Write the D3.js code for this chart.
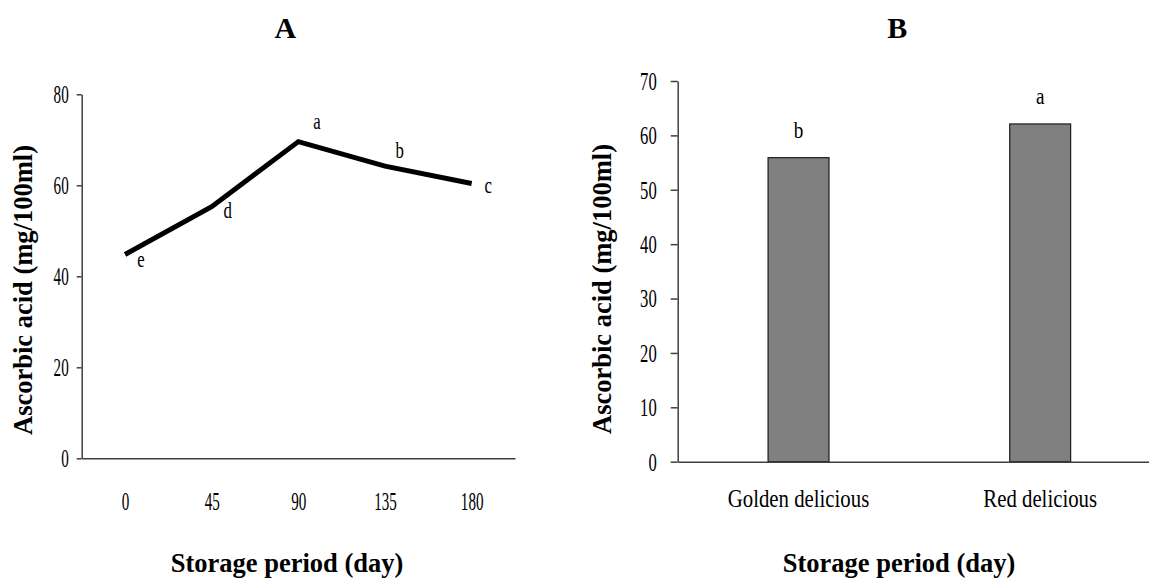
<!DOCTYPE html>
<html>
<head>
<meta charset="utf-8">
<script src="https://cdnjs.cloudflare.com/ajax/libs/d3/7.8.5/d3.min.js"></script>
<style>
	body { margin: 0; background: #fff; }
	text { font-family: "Liberation Serif", "Times New Roman", serif; fill: #000; }
	.axis path, .axis line { stroke: #404040; stroke-width: 1.5; }
	.title { font-weight: bold; }
</style>
</head>
<body>
<script>
/*
Ascorbic acid - panel A (storage period) and panel B (cultivar)
*/

// panel A data
var daysA = ["0", "45", "90", "135", "180"];
var ascorbicA = [44.8, 55.3, 69.6, 64.2, 60.4];
var lettersA = ["e", "d", "a", "b", "c"];
var ticksA = [0, 20, 40, 60, 80];

// panel B data
var cultivarsB = ["Golden delicious", "Red delicious"];
var ascorbicB = [55.9, 62.1];
var lettersB = ["b", "a"];
var ticksB = [0, 10, 20, 30, 40, 50, 60, 70];

// where the letters sit relative to each point of A
var letterOffsetA = [[16, 12.7], [16, 11.3], [18.7, -12.7], [14.7, -8], [16.6, 9.7]];

var svgWidth = 1149;
var svgHeight = 578;
var svg = null;

function initSVG(){
	svg = d3.select("body")
				.append("svg")
					.attr("width", svgWidth)
					.attr("height", svgHeight);
	buildPanelA();
	buildPanelB();
};

//narrow tall digits like the scanned figure
function styleLeftTicks(g, shift, squeeze){
	g.selectAll(".tick text")
		.attr("x", null)
		.style("font-size", "26px")
		.attr("transform", "translate(" + shift + ",0) scale(" + squeeze + ",1)");
}

function addTitles(cx, yTitleX, yTitleY, xTitleX, letter){
	svg.append("text")
		.attr("class", "title")
		.attr("text-anchor", "middle")
		.attr("x", cx).attr("y", 38.3)
		.style("font-size", "30px")
		.text(letter);
	svg.append("text")
		.attr("class", "title")
		.attr("text-anchor", "middle")
		.attr("transform", "translate(" + yTitleX + "," + yTitleY + ") rotate(-90)")
		.style("font-size", "26.5px")
		.text("Ascorbic acid (mg/100ml)");
	svg.append("text")
		.attr("class", "title")
		.attr("text-anchor", "middle")
		.attr("x", xTitleX).attr("y", 572)
		.style("font-size", "26.5px")
		.text("Storage period (day)");
}

function buildPanelA(){
	var xScale = d3.scalePoint()
					.domain(daysA)
					.range([81.7, 515])
					.padding(0.5);
	var yScale = d3.scaleLinear()
					.domain([0, 80])
					.range([458.3, 94.3]);

	svg.append("g")
		.attr("class", "axis")
		.attr("transform", "translate(0," + yScale(0) + ")")
		.call(d3.axisBottom(xScale).tickSize(0).tickSizeOuter(0))
		.selectAll(".tick text")
			.attr("y", 52)
			.attr("dy", null)
			.style("font-size", "26px")
			.attr("transform", "scale(0.58,1)");

	var gy = svg.append("g")
		.attr("class", "axis")
		.attr("transform", "translate(81.7,0)")
		.call(d3.axisLeft(yScale).tickValues(ticksA).tickSize(5).tickSizeOuter(0).tickPadding(0));
	styleLeftTicks(gy, -13, 0.58);

	var line = d3.line()
					.x(function(d, i){ return xScale(daysA[i]); })
					.y(function(d){ return yScale(d); });
	svg.append("path")
		.datum(ascorbicA)
		.attr("fill", "none")
		.attr("stroke", "#000")
		.attr("stroke-width", 5)
		.attr("d", line);

	svg.selectAll(".letterA")
		.data(ascorbicA)
		.enter().append("text")
			.attr("class", "letterA")
			.attr("text-anchor", "middle")
			.style("font-size", "24px")
			.attr("transform", function(d, i){
				var x = xScale(daysA[i]) + letterOffsetA[i][0];
				var y = yScale(d) + letterOffsetA[i][1];
				return "translate(" + x + "," + y + ") scale(0.7,1)";
			})
			.text(function(d, i){ return lettersA[i]; });

	addTitles(285.3, 31.5, 290, 287, "A");
};

function buildPanelB(){
	var xScale = d3.scaleBand()
					.domain(cultivarsB)
					.range([677.7, 1161]);
	var yScale = d3.scaleLinear()
					.domain([0, 70])
					.range([461.7, 81]);
	var barWidth = xScale.bandwidth() * 0.252;

	svg.selectAll(".bar")
		.data(ascorbicB)
		.enter().append("rect")
			.attr("class", "bar")
			.attr("x", function(d, i){ return xScale(cultivarsB[i]) + xScale.bandwidth() / 2 - barWidth / 2; })
			.attr("y", function(d){ return yScale(d); })
			.attr("width", barWidth)
			.attr("height", function(d){ return yScale(0) - yScale(d); })
			.attr("fill", "#808080")
			.attr("stroke", "#1a1a1a")
			.attr("stroke-width", 1.2);

	svg.append("g")
		.attr("class", "axis")
		.attr("transform", "translate(0," + yScale(0) + ")")
		.call(d3.axisBottom(xScale).tickSize(0).tickSizeOuter(0))
		.selectAll(".tick text")
			.attr("y", 45)
			.attr("dy", null)
			.style("font-size", "26px")
			.attr("transform", "scale(0.8,1)");

	var gy = svg.append("g")
		.attr("class", "axis")
		.attr("transform", "translate(677.7,0)")
		.call(d3.axisLeft(yScale).tickValues(ticksB).tickSize(7).tickSizeOuter(0).tickPadding(0));
	styleLeftTicks(gy, -21, 0.64);

	svg.selectAll(".letterB")
		.data(ascorbicB)
		.enter().append("text")
			.attr("class", "letterB")
			.attr("text-anchor", "middle")
			.style("font-size", "24px")
			.attr("transform", function(d, i){
				var x = xScale(cultivarsB[i]) + xScale.bandwidth() / 2;
				return "translate(" + x + "," + (yScale(d) - 20) + ") scale(0.8,1)";
			})
			.text(function(d, i){ return lettersB[i]; });

	addTitles(897.3, 611, 289, 899, "B");
};

initSVG();
</script>
</body>
</html>
